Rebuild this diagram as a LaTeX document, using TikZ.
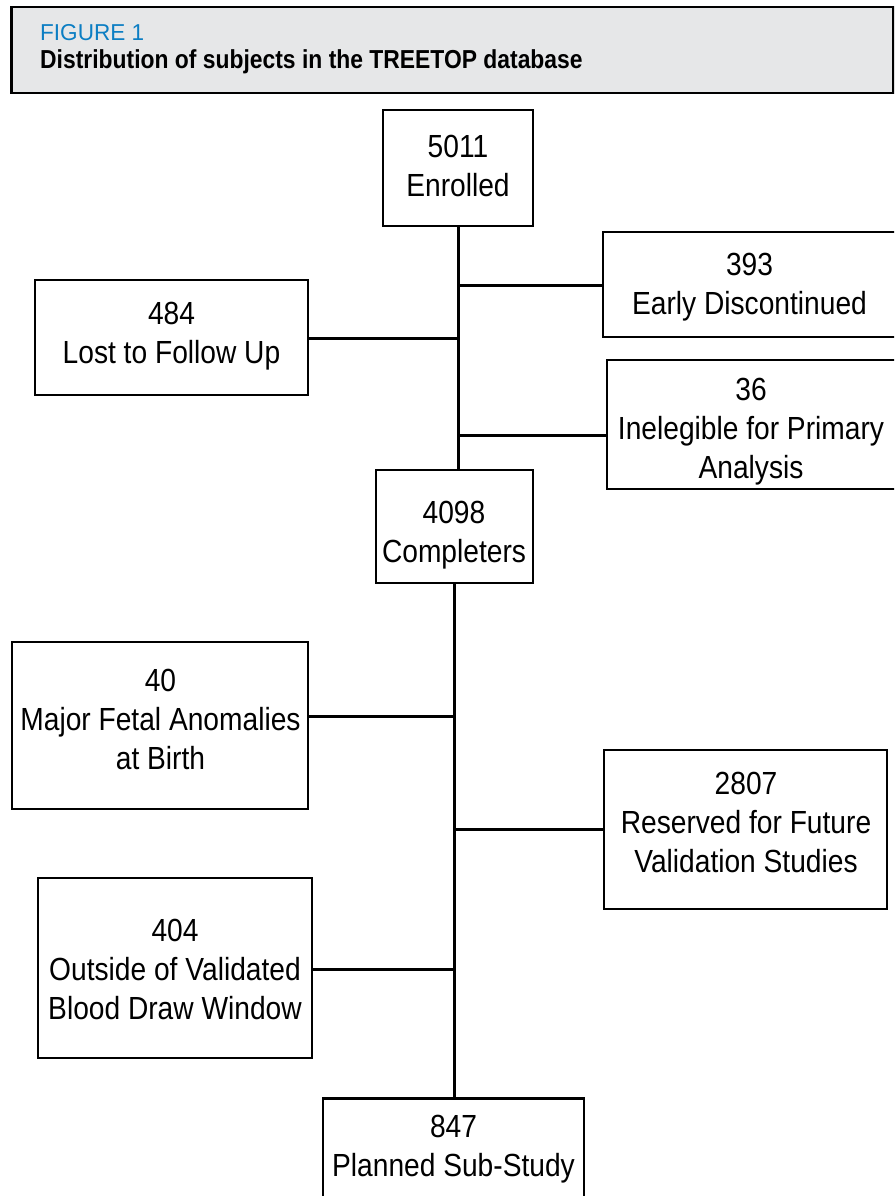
\documentclass[tikz,border=0pt]{standalone}
\usepackage{fontspec}
\setmainfont{Liberation Sans}
\newfontfamily\boxfont[FakeStretch=0.88]{Liberation Sans}
\newfontfamily\headfont[FakeStretch=0.98]{Liberation Sans}
\newfontfamily\titlefont[FakeStretch=0.88]{Liberation Sans}
\definecolor{hdrgray}{HTML}{E6E7E8}
\definecolor{figblue}{HTML}{0C7EC3}
\tikzset{
  box/.style={draw=black, line width=2.5pt, fill=white, inner sep=0pt},
  boxtext/.style={align=center, inner sep=0pt, font=\boxfont\fontsize{32}{39}\selectfont},
  link/.style={draw=black, line width=3pt},
}
\begin{document}
\begin{tikzpicture}[x=1pt,y=-1pt]
\useasboundingbox (0,0) rectangle (894,1196);
\clip (0,0) rectangle (894,1196);
\fill[white] (0,0) rectangle (894,1196);
% header
\node[draw=black, line width=2.5pt, fill=hdrgray, minimum width=882pt, minimum height=86pt, inner sep=0pt] (hdr) at (452.5,50) {};
\node[anchor=base west, inner sep=0pt, text=figblue, font=\headfont\fontsize{23}{23}\selectfont] (fig) at (40,41) {FIGURE 1};
\node[anchor=base west, inner sep=0pt, font=\titlefont\bfseries\fontsize{26}{26}\selectfont] (title) at (40,68.5) {Distribution of subjects in the TREETOP database};
% boxes
\node[box, minimum width=150pt, minimum height=116pt] (enr) at (458,168) {};
\node[boxtext] (enrt) at (458,165.5) {5011\\Enrolled};
\node[box, minimum width=300pt, minimum height=105pt] (early) at (753,284.5) {};
\node[boxtext] (earlyt) at (749.5,287) {393\\Early Discontinued};
\node[box, minimum width=273pt, minimum height=115pt] (lost) at (171.5,337.5) {};
\node[boxtext] (lostt) at (171.5,336.5) {484\\Lost to Follow Up};
\node[box, minimum width=296pt, minimum height=129pt] (inel) at (755,424.5) {};
\node[boxtext] (inelt) at (751,431.5) {36\\Inelegible for Primary\\Analysis};
\node[box, minimum width=157pt, minimum height=113pt] (comp) at (454.5,526.5) {};
\node[boxtext] (compt) at (454,535) {4098\\Completers};
\node[box, minimum width=296pt, minimum height=167pt] (major) at (160,725.5) {};
\node[boxtext] (majort) at (160.5,719) {40\\Major Fetal Anomalies\\at Birth};
\node[box, minimum width=283pt, minimum height=159pt] (res) at (745.5,829.5) {};
\node[boxtext] (rest) at (746,822.5) {2807\\Reserved for Future\\Validation Studies};
\node[box, minimum width=274pt, minimum height=180pt] (out) at (175,968) {};
\node[boxtext] (outt) at (175,969) {404\\Outside of Validated\\Blood Draw Window};
\node[box, minimum width=261pt, minimum height=140pt, anchor=north] (plan) at (453.5,1097) {};
\node[boxtext] (plant) at (453.5,1149) {847\\Planned Sub-Study};
% trunk 1
\coordinate (j1) at (458,285);
\coordinate (j2) at (458,338);
\coordinate (j3) at (458,435);
\draw[link] (enr.south) -- (enr.south |- comp.north);
\draw[link] (j1) -- (j1 -| early.west);
\draw[link] (j2) -- (j2 -| lost.east);
\draw[link] (j3) -- (j3 -| inel.west);
% trunk 2
\coordinate (k0) at (454,583);
\coordinate (k1) at (454,716);
\coordinate (k2) at (454,829);
\coordinate (k3) at (454,969);
\draw[link] (k0) -- (k0 |- plan.north);
\draw[link] (k1) -- (k1 -| major.east);
\draw[link] (k2) -- (k2 -| res.west);
\draw[link] (k3) -- (k3 -| out.east);
\end{tikzpicture}
\end{document}
